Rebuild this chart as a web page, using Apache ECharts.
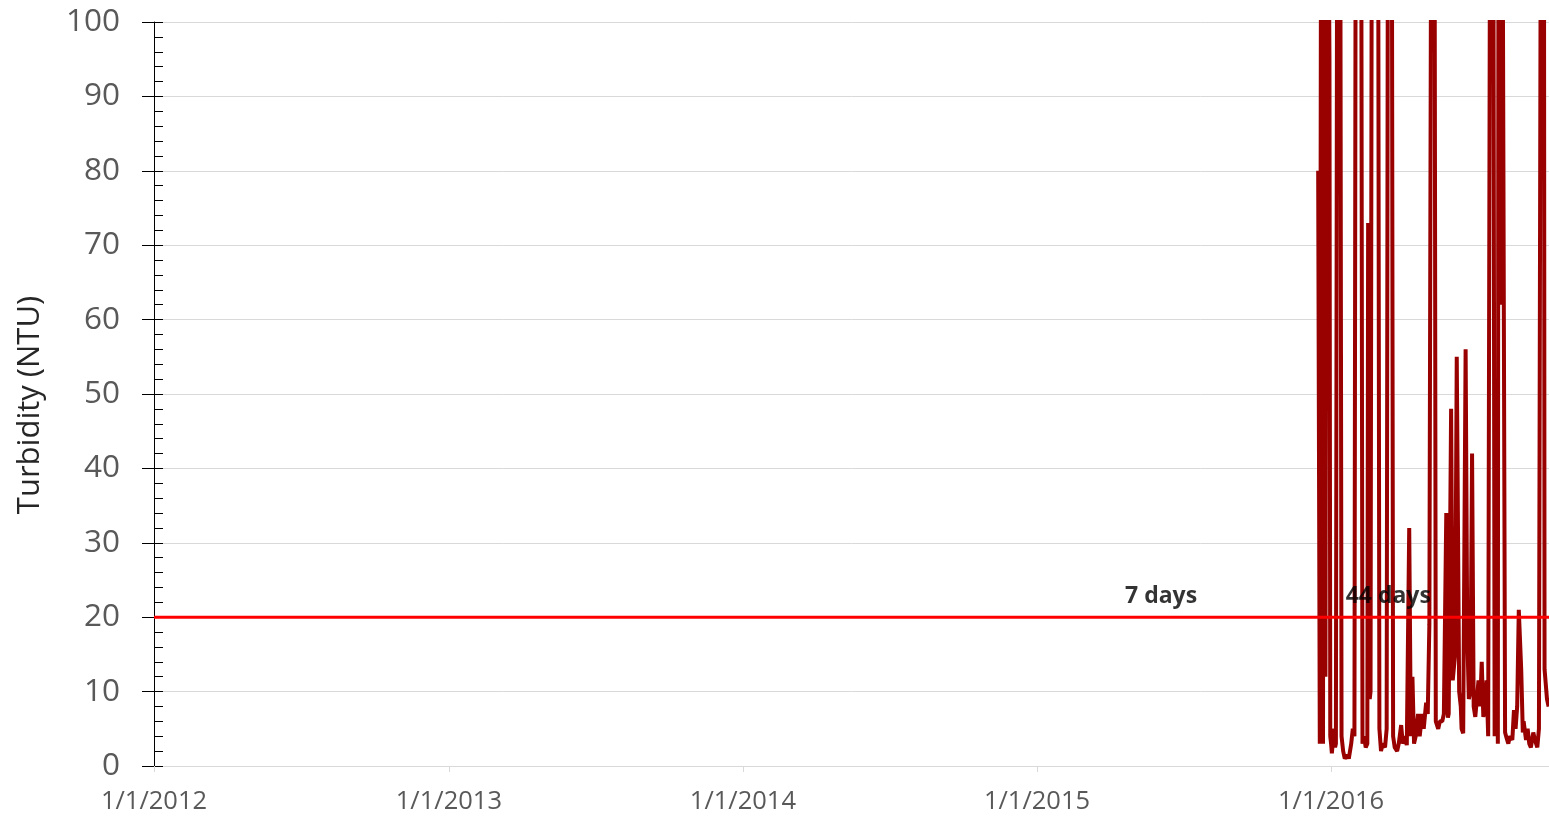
<!DOCTYPE html>
<html>
<head>
<meta charset="utf-8">
<script src="https://cdn.jsdelivr.net/npm/echarts@6/dist/echarts.min.js"></script>
<style>
  html, body { margin: 0; padding: 0; background: #ffffff; }
  #chart { width: 1549px; height: 825px; }
</style>
</head>
<body>
<div id="chart"></div>
<script>
// Daily turbidity readings; day numbers count from 1/1/2016
const recordStart = [2016, 0, 1];
const dayNumbers = [
  -16, -15, -14, -12, -11, -10, -9, -7, -6, -5, -4, -2, -1, 0, 1, 2, 4, 5, 6, 8,
  11, 13, 15, 17, 20, 22, 25, 27, 29, 31, 33, 37, 39, 41, 43, 45, 46, 48, 49, 51,
  55, 58, 60, 62, 64, 67, 69, 71, 75, 77, 79, 82, 84, 86, 87, 89, 92, 94, 97, 99,
  101, 103, 105, 108, 110, 113, 115, 118, 120, 122, 125, 128, 130, 133, 135, 138, 140, 143, 145, 146,
  149, 151, 154, 156, 159, 161, 162, 164, 167, 169, 171, 173, 175, 177, 179, 181, 183, 185, 187, 189,
  191, 193, 195, 198, 201, 203, 205, 207, 208, 210, 212, 214, 216, 218, 220, 222, 225, 227, 229, 231,
  233, 236, 238, 239, 242, 244, 246, 248, 251, 253, 256, 258, 261, 264, 265, 268, 270
];
const turbidityNTU = [
  80, 80, 3, 150, 150, 3, 150, 12, 12, 150, 150, 95, 4, 3, 1.7, 3, 5, 2.5, 3, 150,
  150, 4, 2, 1, 1.5, 1, 3, 5, 4, 150, 150, 150, 3, 4, 2.5, 3, 73, 9, 10, 150,
  150, 150, 5, 2, 3, 2.5, 5, 150, 150, 4, 2.5, 2, 3, 2.8, 5.5, 3, 4, 2.8, 32, 4,
  12, 3, 4, 7, 4, 7, 5, 8.5, 7, 19, 150, 150, 6, 5, 6, 6, 7, 34, 6.5, 7,
  48, 11.5, 15, 55, 10, 8, 5, 4.4, 56, 18, 9, 10, 42, 8, 6.6, 9, 11.5, 8, 14, 6.6,
  8, 11.5, 4, 150, 150, 4, 31, 3, 150, 62, 150, 150, 4.5, 3.7, 3, 4, 3.5, 7.5, 5, 8,
  21, 13, 4.5, 6, 3.5, 5, 3, 2.5, 4.5, 3.5, 2.5, 5, 150, 150, 13, 9, 8
];

// Turbidity standard
const standardNTU = 20;

// Axis extent and ticks
const axisStart = '2012-01-01';
const axisEnd = '2016-09-27 12:00';
const yMin = 0;
const yMax = 100;
const yStep = 10;

// Exceedance duration notes
const noteTexts = ['7 days', '44 days'];
const noteDays = [-211, 71];
const noteLevels = [22.8, 22.8];

const dayToTime = d => +new Date(recordStart[0], recordStart[1], recordStart[2] + d);

const lineData = dayNumbers.map((d, i) => [dayToTime(d), turbidityNTU[i]]);
const standardData = [[axisStart, standardNTU], [axisEnd, standardNTU]];
const noteData = noteTexts.map((t, i) => ({ name: t, value: [dayToTime(noteDays[i]), noteLevels[i]] }));

const chart = echarts.init(document.getElementById('chart'), null, { renderer: 'canvas' });

const labelFont = '"Open Sans", "DejaVu Sans", sans-serif';

chart.setOption({
  animation: false,
  backgroundColor: '#ffffff',
  grid: { left: 154, right: 0, top: 22, bottom: 59, containLabel: false },
  xAxis: {
    type: 'time',
    min: axisStart,
    max: axisEnd,
    splitNumber: 5,
    axisLine: { show: true, lineStyle: { color: '#d9d9d9', width: 1 } },
    axisTick: { show: true, length: 6, lineStyle: { color: '#d9d9d9' } },
    splitLine: { show: false },
    axisLabel: {
      color: '#595959',
      fontFamily: labelFont,
      fontSize: 25.5,
      margin: 23,
      hideOverlap: false,
      formatter: v => {
        const d = new Date(v);
        return (d.getMonth() + 1) + '/' + d.getDate() + '/' + d.getFullYear();
      }
    }
  },
  yAxis: [
    {
      type: 'value',
      position: 'left',
      min: yMin,
      max: yMax,
      interval: yStep,
      name: 'Turbidity (NTU)',
      nameLocation: 'middle',
      nameGap: 108,
      nameTextStyle: {
        color: '#262626',
        fontFamily: labelFont,
        fontSize: 31,
        padding: [0, 22, 0, 0]
      },
      axisLine: { show: true, lineStyle: { color: '#000000', width: 1 } },
      axisTick: { show: true, inside: false, length: 12, lineStyle: { color: '#000000' } },
      splitLine: { show: true, lineStyle: { color: '#d9d9d9', width: 1 } },
      axisLabel: {
        color: '#595959',
        fontFamily: labelFont,
        fontSize: 31.5,
        margin: 34
      }
    },
    {
      type: 'value',
      position: 'left',
      offset: 0,
      min: yMin,
      max: yMax,
      interval: yStep,
      axisLine: { show: false },
      axisTick: { show: true, inside: true, length: 9, lineStyle: { color: '#000000' } },
      minorTick: { show: true, splitNumber: 5, length: 9, lineStyle: { color: '#000000' } },
      splitLine: { show: false },
      axisLabel: { show: false }
    }
  ],
  series: [
    {
      type: 'line',
      name: 'Turbidity',
      data: lineData,
      showSymbol: false,
      symbol: 'none',
      clip: true,
      lineStyle: { color: '#990000', width: 4 },
      z: 2
    },
    {
      type: 'line',
      name: 'Standard',
      data: standardData,
      showSymbol: false,
      symbol: 'none',
      lineStyle: { color: '#ff0000', width: 3 },
      z: 3
    },
    {
      type: 'scatter',
      name: 'Duration',
      data: noteData,
      symbolSize: 0,
      z: 4,
      label: {
        show: true,
        position: 'inside',
        formatter: p => p.name,
        color: '#000000',
        fontFamily: labelFont,
        fontWeight: 'bold',
        fontSize: 23
      }
    }
  ]
});
</script>
</body>
</html>
